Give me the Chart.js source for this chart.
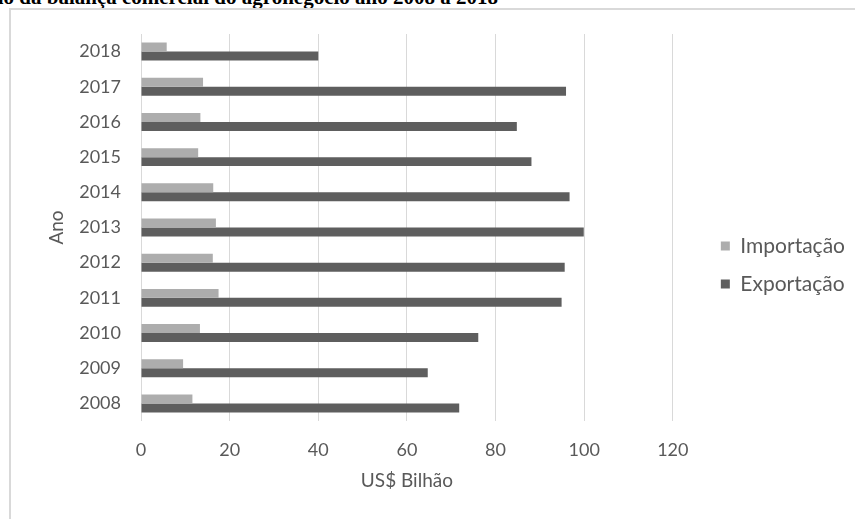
<!DOCTYPE html>
<html lang="pt">
<head>
<meta charset="utf-8">
<script src="https://cdn.jsdelivr.net/npm/chart.js@4/dist/chart.umd.min.js"></script>
<style>
  html, body { margin: 0; padding: 0; background: #fff; }
  body { width: 855px; height: 519px; overflow: hidden; position: relative; }
  #title {
    position: absolute; right: 357px; top: -13px; white-space: nowrap;
    font: bold 21px/21px "Liberation Serif", "Times New Roman", serif; color: #000;
  }
  #frame {
    position: absolute; left: 9px; top: 8px; width: 900px; height: 600px;
    border: 2px solid #d9d9d9; box-sizing: border-box;
  }
  #chart { position: absolute; left: 0; top: 0; }
</style>
</head>
<body>
<div id="title">Evolução da balança comercial do agronegócio ano 2008 a 2018</div>
<div id="frame"></div>
<canvas id="chart" width="855" height="519"></canvas>
<script>
const years = ['2008', '2009', '2010', '2011', '2012', '2013', '2014', '2015', '2016', '2017', '2018'];
const importacao = [11.6, 9.5, 13.3, 17.5, 16.2, 16.9, 16.3, 12.9, 13.4, 14.0, 5.8];
const exportacao = [71.8, 64.7, 76.1, 94.9, 95.6, 99.9, 96.7, 88.1, 84.8, 95.9, 40.0];
const xTicks = [0, 20, 40, 60, 80, 100, 120];

const font = 'Lato';
const grey = '#595959';

new Chart(document.getElementById('chart'), {
  type: 'bar',
  data: {
    labels: years,
    datasets: [
      { label: 'Importação', data: importacao, backgroundColor: '#adadad' },
      { label: 'Exportação', data: exportacao, backgroundColor: '#5e5e5e' },
    ],
  },
  options: {
    indexAxis: 'y',
    responsive: false,
    animation: false,
    devicePixelRatio: 1,
    datasets: { bar: { categoryPercentage: 0.51, barPercentage: 1 } },
    layout: { padding: { top: 34, left: 45, right: 0, bottom: 23 } },
    plugins: {
      tooltip: { enabled: false },
      legend: {
        position: 'right',
        maxWidth: 200,
        labels: {
          font: { family: font, size: 21 },
          color: grey,
          boxWidth: 9,
          boxHeight: 9,
          padding: 17,
        },
      },
    },
    scales: {
      x: {
        min: 0,
        max: 120,
        afterBuildTicks: s => (s.ticks = xTicks.map(v => ({ value: v }))),
        afterFit: s => (s.height = 75),
        grid: { color: '#d9d9d9', drawTicks: false },
        border: { display: false },
        ticks: { font: { family: font, size: 18 }, color: grey, padding: 18 },
        title: {
          display: true,
          text: 'US$ Bilhão',
          font: { family: font, size: 19 },
          color: grey,
        },
      },
      y: {
        reverse: true,
        afterFit: s => (s.width = 96),
        grid: { display: false },
        border: { display: false },
        ticks: { font: { family: font, size: 18 }, color: grey, padding: 12 },
        title: {
          display: true,
          text: 'Ano',
          font: { family: font, size: 19 },
          color: grey,
          padding: 0,
        },
      },
      gap: {
        axis: 'y',
        position: 'right',
        afterFit: s => (s.width = 31),
        grid: { display: false },
        border: { display: false },
        ticks: { display: false },
      },
    },
  },
});
</script>
</body>
</html>
